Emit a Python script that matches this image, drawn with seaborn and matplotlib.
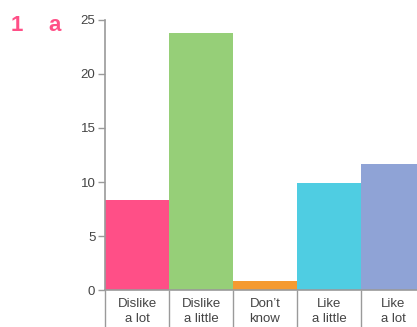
import numpy as np
import pandas as pd
import seaborn as sns
import matplotlib.pyplot as plt

sns.set_theme(style='white')
plt.rcParams['font.family'] = ['Liberation Sans', 'DejaVu Sans']

categories = ['Dislike\na lot', 'Dislike\na little', 'Don\u2019t\nknow', 'Like\na little', 'Like\na lot']
values = [8.3, 23.8, 0.8, 9.9, 11.7]
colours = ['#FF4F87', '#96CF78', '#F59A30', '#4FCDE2', '#8FA3D6']

df = pd.DataFrame({'answer': categories, 'count': values})

fig = plt.figure(figsize=(4.17, 3.27), dpi=100)
ax = fig.add_axes([0.252, 0.113, 0.767, 0.826])

sns.barplot(data=df, x='answer', y='count', hue='answer', palette=colours,
            width=1.0, legend=False, saturation=1, ax=ax, linewidth=0)

grey = '#9a9a9a'
ax.set_ylim(0, 25)
ax.set_xlim(-0.5, 4.5)
ax.set_yticks([0, 5, 10, 15, 20, 25])
ax.set_xlabel('')
ax.set_ylabel('')

for s in ['top', 'right']:
    ax.spines[s].set_visible(False)
for s in ['left', 'bottom']:
    ax.spines[s].set_color(grey)
    ax.spines[s].set_linewidth(1.2)

ax.tick_params(axis='y', left=True, length=5, width=1, color=grey,
               labelsize=9.5, labelcolor='#444444', pad=2)
ax.tick_params(axis='x', which='major', length=0, labelsize=9.5,
               labelcolor='#444444', pad=6)
ax.set_xticks(np.arange(-0.5, 5, 1), minor=True)
ax.tick_params(axis='x', which='minor', bottom=True, length=28, width=1, color=grey)
for lbl in ax.get_xticklabels():
    lbl.set_linespacing(1.3)

fig.text(0.025, 0.905, '1', color='#FF4F87', fontsize=16, fontweight='bold')
fig.text(0.115, 0.905, 'a', color='#FF4F87', fontsize=16, fontweight='bold')

plt.savefig('out.png', dpi=100)
